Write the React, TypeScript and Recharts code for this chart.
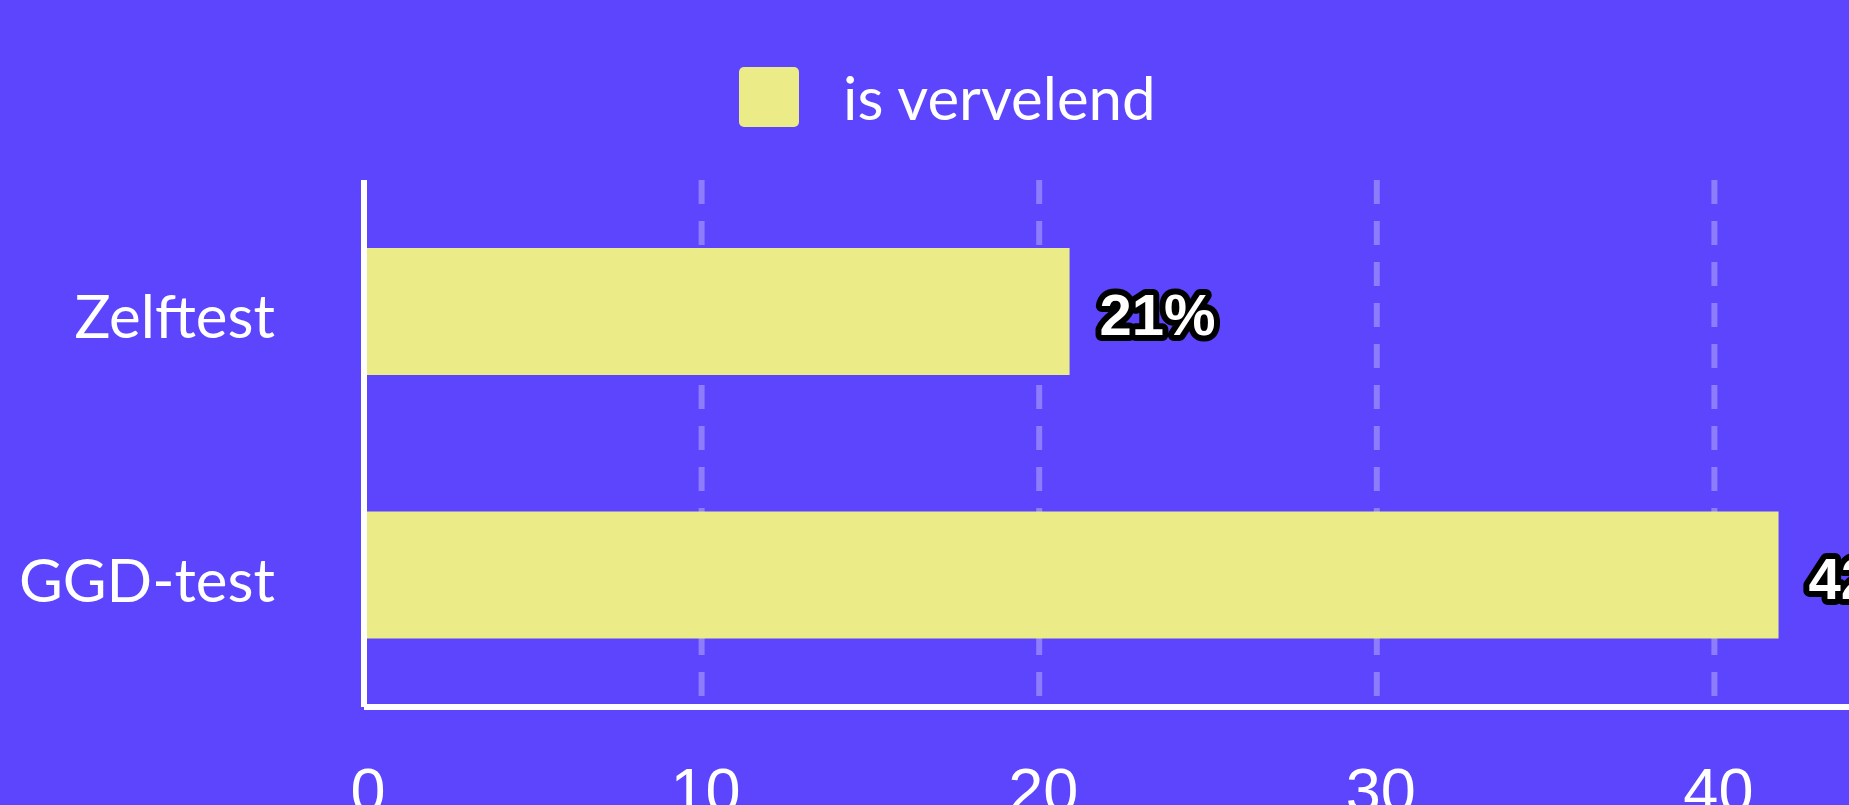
import React from "react";
import {
  BarChart,
  Bar,
  XAxis,
  YAxis,
  CartesianGrid,
  Legend,
  LabelList,
} from "recharts";

// data
const categories = ["Zelftest", "GGD-test"];
const isVervelend = [20.9, 41.9];
const xTicks = [0, 10, 20, 30, 40, 50];
const seriesName = "is vervelend";

const BG = "#5c45fd";
const BAR = "#ebeb87";

const data = categories.map((name, i) => ({ name, value: isVervelend[i] }));

function LegendContent() {
  return (
    <div style={{ display: "flex", alignItems: "center", height: 74 }}>
      <span
        style={{
          display: "inline-block",
          width: 60,
          height: 60,
          borderRadius: 5,
          background: BAR,
        }}
      />
      <span
        style={{
          marginLeft: 44,
          color: "#fff",
          fontFamily: "Lato",
          fontSize: 60,
          lineHeight: "74px",
          whiteSpace: "nowrap",
        }}>
        {seriesName}
      </span>
    </div>
  );
}

export default function App() {
  return (
    <div
      style={{
        position: "fixed",
        left: 0,
        top: 0,
        width: 1849,
        height: 805,
        overflow: "hidden",
        background: BG,
      }}>
      <BarChart
        width={2072}
        height={900}
        data={data}
        layout="vertical"
        margin={{ top: 180, right: 20, left: 0, bottom: 0 }}>
        <CartesianGrid
          horizontal={false}
          stroke="rgba(255,255,255,0.3)"
          strokeWidth={6}
          strokeDasharray="24 17"
        />
        <XAxis
          type="number"
          domain={[0, 50]}
          ticks={xTicks}
          interval={0}
          height={193}
          tickLine={false}
          tickSize={0}
          tickMargin={60}
          axisLine={{ stroke: "#fff", strokeWidth: 6 }}
          tick={{ fill: "#fff", fontSize: 63, fontFamily: "Liberation Sans", dx: 4 }}
        />
        <YAxis
          type="category"
          dataKey="name"
          width={364}
          tickLine={false}
          tickSize={0}
          tickMargin={89}
          axisLine={{ stroke: "#fff", strokeWidth: 6 }}
          tick={{ fill: "#fff", fontSize: 60, fontFamily: "Lato", dy: 5 }}
        />
        <Legend
          layout="horizontal"
          verticalAlign="middle"
          align="center"
          wrapperStyle={{ top: 60, left: 739, width: "auto" }}
          content={<LegendContent />}
        />
        <Bar
          dataKey="value"
          name={seriesName}
          fill={BAR}
          barSize={127}
          isAnimationActive={false}>
          <LabelList
            dataKey="value"
            position="right"
            offset={30}
            formatter={(v: any) => `${Math.round(v)}%`}
            fill="#fff"
            stroke="#000"
            strokeWidth={12}
            strokeLinejoin="round"
            paintOrder="stroke"
            fontFamily="Liberation Sans"
            fontWeight="bold"
            fontSize={58}
            dy={3}
          />
        </Bar>
      </BarChart>
    </div>
  );
}
